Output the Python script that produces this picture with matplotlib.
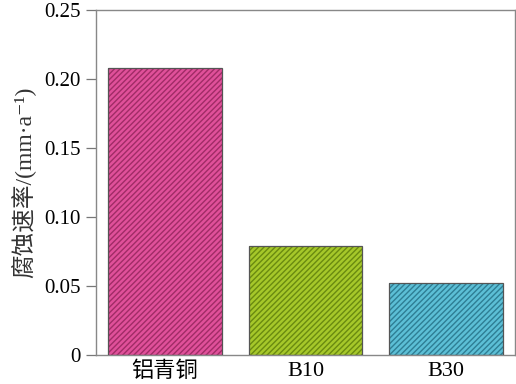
import matplotlib
matplotlib.use("Agg")
import matplotlib.pyplot as plt

categories = ["铝青铜", "B10", "B30"]
values = [0.208, 0.079, 0.052]
face_colors = ["#e0509a", "#a6c82a", "#5cbfd6"]
hatch_colors = ["#a02c66", "#6a8a10", "#2e7e94"]
yticks = [0, 0.05, 0.10, 0.15, 0.20, 0.25]
ytick_labels = ["0", "0.05", "0.10", "0.15", "0.20", "0.25"]

plt.rcParams['font.family'] = ['Liberation Serif', 'Noto Sans CJK SC', 'DejaVu Sans']
plt.rcParams['hatch.linewidth'] = 1.0

fig = plt.figure(figsize=(5.16, 3.84), dpi=100)
ax = fig.add_axes([96/516, 29/384, 419/516, 345/384])

x = list(range(len(categories)))
for i, (v, fc, hc) in enumerate(zip(values, face_colors, hatch_colors)):
    ax.bar(i, v, width=0.81, color=fc, edgecolor=hc, hatch='//////', linewidth=0, zorder=2)
    ax.bar(i, v, width=0.81, fill=False, edgecolor='#555555', linewidth=0.9, zorder=3)

ax.set_xlim(-0.49, 2.49)
ax.set_ylim(0, 0.25)
ax.set_yticks(yticks)
ax.set_yticklabels(ytick_labels)
ax.set_xticks(x)
ax.set_xticklabels(categories)
ax.tick_params(axis='y', direction='out', length=7, width=0.9, color='#777777', labelsize=15, pad=4)
ax.tick_params(axis='x', length=0, labelsize=16, pad=5)
for s in ax.spines.values():
    s.set_color('#888888')
    s.set_linewidth(1.0)

ax.set_ylabel('腐蚀速率/(mm·a⁻¹)', fontsize=17, labelpad=6, color='#333333')

fig.savefig("out.png", dpi=100)
